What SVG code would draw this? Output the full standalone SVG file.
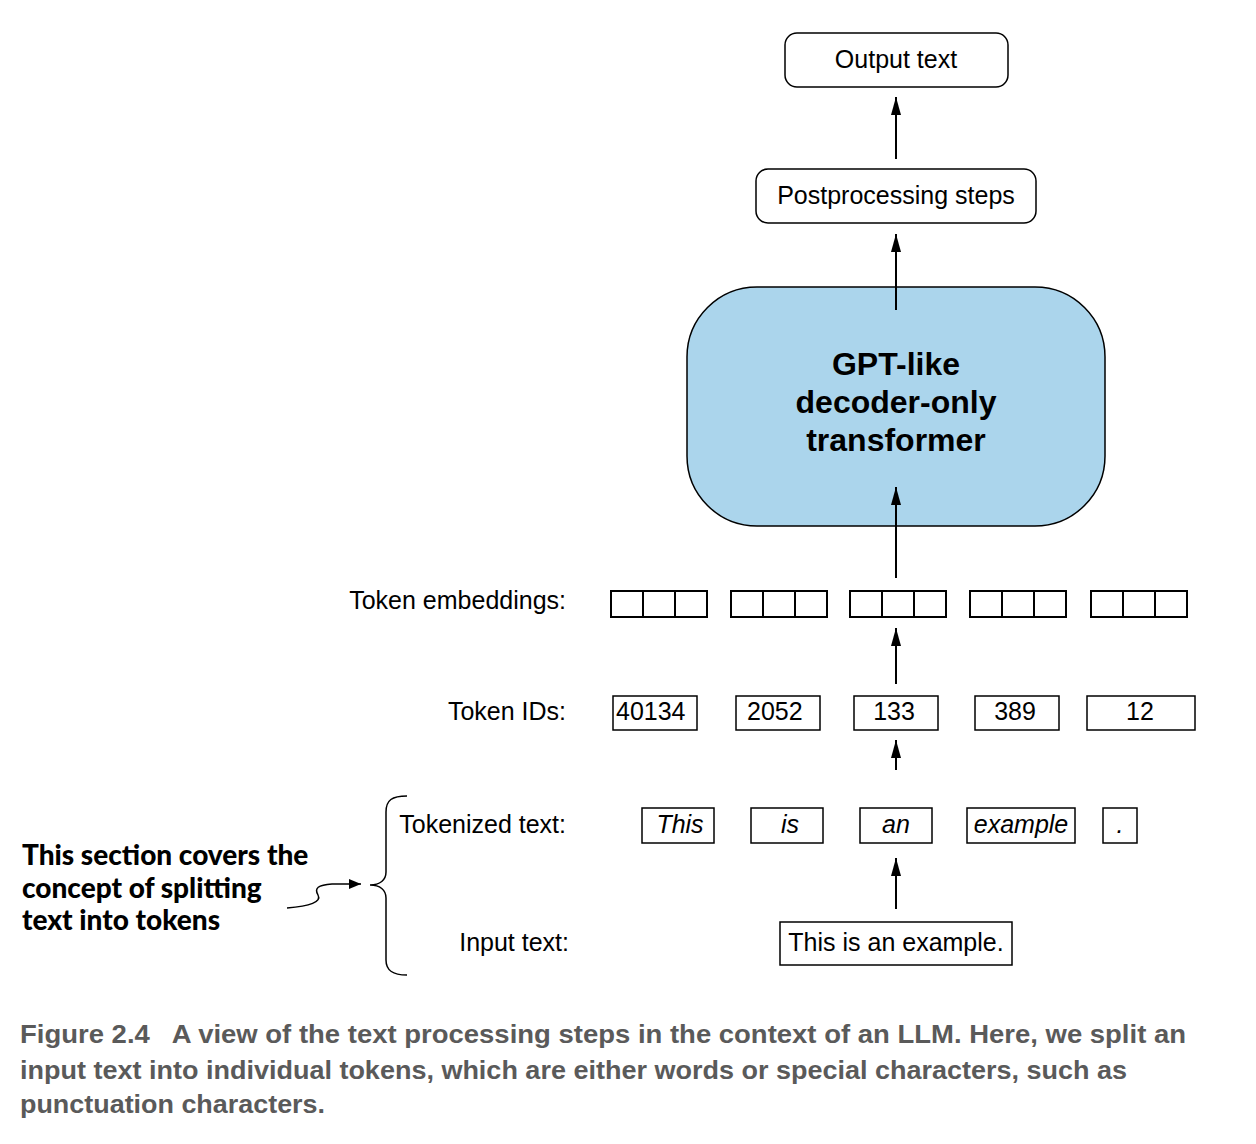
<svg xmlns="http://www.w3.org/2000/svg" width="1256" height="1144" viewBox="0 0 1256 1144">
<defs>
<marker id="ah" viewBox="0 0 18 10" refX="18" refY="5" markerWidth="18" markerHeight="10" markerUnits="userSpaceOnUse" orient="auto">
<path d="M0,0 L18,5 L0,10 z" fill="#000"/>
</marker>
<marker id="ah2" viewBox="0 0 12 10" refX="12" refY="5" markerWidth="12" markerHeight="10" markerUnits="userSpaceOnUse" orient="auto">
<path d="M0,0 L12,5 L0,10 z" fill="#000"/>
</marker>
</defs>
<style>
.t{font-family:"Liberation Sans",Arial,sans-serif;font-size:25px;fill:#000}
.m{text-anchor:middle}
.e{text-anchor:end}
.i{font-style:italic}
.box{fill:#fff;stroke:#000;stroke-width:1.5}
.rbox{fill:#fff;stroke:#000;stroke-width:1.5}
.cell{fill:#fff;stroke:#000;stroke-width:2}
.conn{stroke:#000;stroke-width:2;fill:none;marker-end:url(#ah)}
.b{font-family:"Liberation Sans",Arial,sans-serif;font-weight:bold;font-size:32px;text-anchor:middle;fill:#000}
.ann{font-family:Lato,"Open Sans",sans-serif;font-weight:900;font-size:28px;fill:#000}
.cap{font-family:"Liberation Sans",Arial,sans-serif;font-weight:bold;font-size:26px;fill:#5a5a5a}
</style>
<rect width="1256" height="1144" fill="#fff"/>

<g id="output">
<rect class="rbox" x="785" y="33" width="223" height="54" rx="12"/>
<text class="t m" x="896" y="68">Output text</text>
</g>
<g id="postprocessing">
<rect class="rbox" x="756" y="169" width="280" height="54" rx="12"/>
<text class="t m" x="896" y="204">Postprocessing steps</text>
</g>
<g id="transformer">
<rect x="687" y="287" width="418" height="239" rx="70" fill="#abd5ec" stroke="#000" stroke-width="1.5"/>
<text class="b" x="896" y="375">GPT-like</text>
<text class="b" x="896" y="413">decoder-only</text>
<text class="b" x="896" y="451">transformer</text>
</g>

<g id="embeddings">
<text class="t e" x="566" y="609">Token embeddings:</text>
<g>
<rect class="cell" x="611" y="591" width="32" height="26"/><rect class="cell" x="643" y="591" width="32" height="26"/><rect class="cell" x="675" y="591" width="32" height="26"/>
<rect class="cell" x="731" y="591" width="32" height="26"/><rect class="cell" x="763" y="591" width="32" height="26"/><rect class="cell" x="795" y="591" width="32" height="26"/>
<rect class="cell" x="850" y="591" width="32" height="26"/><rect class="cell" x="882" y="591" width="32" height="26"/><rect class="cell" x="914" y="591" width="32" height="26"/>
<rect class="cell" x="970" y="591" width="32" height="26"/><rect class="cell" x="1002" y="591" width="32" height="26"/><rect class="cell" x="1034" y="591" width="32" height="26"/>
<rect class="cell" x="1091" y="591" width="32" height="26"/><rect class="cell" x="1123" y="591" width="32" height="26"/><rect class="cell" x="1155" y="591" width="32" height="26"/>
</g>
</g>

<g id="token-ids">
<text class="t e" x="566" y="720">Token IDs:</text>
<rect class="box" x="613" y="696" width="84" height="34"/><text class="t" x="616" y="720">40134</text>
<rect class="box" x="736" y="696" width="84" height="34"/><text class="t" x="747" y="720">2052</text>
<rect class="box" x="854" y="696" width="84" height="34"/><text class="t m" x="894" y="720">133</text>
<rect class="box" x="975" y="696" width="84" height="34"/><text class="t m" x="1015" y="720">389</text>
<rect class="box" x="1087" y="696" width="108" height="34"/><text class="t m" x="1140" y="720">12</text>
</g>

<g id="tokenized">
<text class="t e" x="566" y="833">Tokenized text:</text>
<rect class="box" x="642" y="808" width="72" height="35"/><text class="t m i" x="680" y="833">This</text>
<rect class="box" x="751" y="808" width="72" height="35"/><text class="t m i" x="790" y="833">is</text>
<rect class="box" x="860" y="808" width="72" height="35"/><text class="t m i" x="896" y="833">an</text>
<rect class="box" x="967" y="808" width="108" height="35"/><text class="t m i" x="1021" y="833">example</text>
<rect class="box" x="1103" y="808" width="34" height="35"/><text class="t m i" x="1120" y="833">.</text>
</g>

<g id="input">
<text class="t e" x="569" y="951">Input text:</text>
<rect class="box" x="780" y="922" width="232" height="43"/>
<text class="t m" x="896" y="951">This is an example.</text>
</g>

<g id="annotation">
<path d="M407,796 C392,796 386,800 386,812 L386,872 C386,880 380,885 370,885 C380,885 386,890 386,898 L386,960 C386,970 392,975 407,975" fill="none" stroke="#000" stroke-width="1.5"/>
<text class="ann" x="22" y="865">This section covers the</text>
<text class="ann" x="22" y="898">concept of splitting</text>
<text class="ann" x="22" y="930">text into tokens</text>
</g>

<g id="connectors">
<line class="conn" x1="896" y1="159" x2="896" y2="97"/>
<line class="conn" x1="896" y1="310" x2="896" y2="234"/>
<line class="conn" x1="896" y1="578" x2="896" y2="487"/>
<line class="conn" x1="896" y1="684" x2="896" y2="628"/>
<line class="conn" x1="896" y1="770" x2="896" y2="740"/>
<line class="conn" x1="896" y1="909" x2="896" y2="858"/>
<path d="M287,908 C310,906 322,902 318,895 C314,888 318,885 332,884 L361,884" fill="none" stroke="#000" stroke-width="1.5" marker-end="url(#ah2)"/>
</g>

<g id="caption">
<text class="cap" x="20" y="1043" textLength="1166" lengthAdjust="spacingAndGlyphs" xml:space="preserve">Figure 2.4   A view of the text processing steps in the context of an LLM. Here, we split an</text>
<text class="cap" x="20" y="1079" textLength="1107" lengthAdjust="spacingAndGlyphs">input text into individual tokens, which are either words or special characters, such as</text>
<text class="cap" x="20" y="1113" textLength="305" lengthAdjust="spacingAndGlyphs">punctuation characters.</text>
</g>
</svg>
